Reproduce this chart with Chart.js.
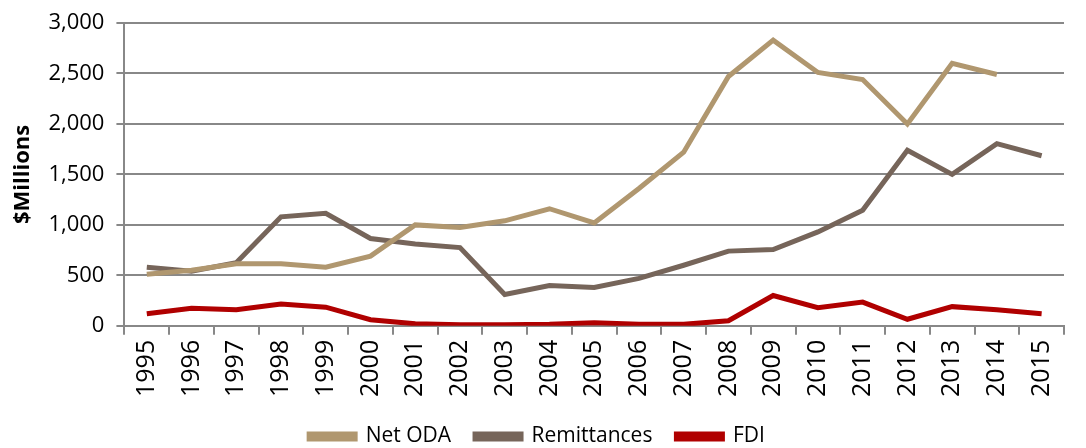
<!DOCTYPE html>
<html>
<head>
<meta charset="utf-8">
<script src="https://cdn.jsdelivr.net/npm/chart.js@4"></script>
<style>
  html, body { margin: 0; padding: 0; background: #fff; }
  #wrap { width: 1086px; height: 448px; }
</style>
</head>
<body>
<div id="wrap"><canvas id="lineChart" width="1086" height="448"></canvas></div>
<script>
var years = ['1995','1996','1997','1998','1999','2000','2001','2002','2003','2004','2005',
             '2006','2007','2008','2009','2010','2011','2012','2013','2014','2015'];
var netOda = [510, 550, 615, 615, 580, 690, 1000, 975, 1040, 1160, 1020,
              1360, 1720, 2470, 2830, 2510, 2440, 2000, 2600, 2490, null];
var remittances = [580, 540, 625, 1080, 1115, 865, 810, 775, 310, 400, 380,
                   470, 600, 740, 755, 930, 1145, 1740, 1500, 1805, 1685];
var fdi = [120, 175, 160, 215, 185, 60, 20, 10, 10, 15, 30,
           15, 15, 50, 300, 180, 235, 65, 190, 160, 120];

var font = "'Open Sans', sans-serif";

var ctx1 = document.getElementById('lineChart').getContext('2d');
var lineChart = new Chart(ctx1, {
    type: 'line',
    data: {
        labels: years,
        datasets: [{
            label: 'Net ODA',
            data: netOda,
            borderColor: '#B0976F',
            backgroundColor: '#B0976F',
            borderWidth: 5,
            pointRadius: 0,
            tension: 0
        }, {
            label: 'Remittances',
            data: remittances,
            borderColor: '#76655A',
            backgroundColor: '#76655A',
            borderWidth: 5,
            pointRadius: 0,
            tension: 0
        }, {
            label: 'FDI',
            data: fdi,
            borderColor: '#B00000',
            backgroundColor: '#B00000',
            borderWidth: 5,
            pointRadius: 0,
            tension: 0
        }]
    },
    options: {
        responsive: false,
        animation: false,
        layout: { padding: { left: 10, right: 22, top: 0, bottom: -9 } },
        plugins: {
            legend: {
                position: 'bottom',
                labels: {
                    color: '#000',
                    boxWidth: 46,
                    boxHeight: 5,
                    padding: 24,
                    font: { family: font, size: 21 }
                }
            },
            tooltip: { enabled: false }
        },
        scales: {
            x: {
                offset: true,
                grid: {
                    display: true,
                    drawOnChartArea: false,
                    drawTicks: true,
                    tickLength: 9,
                    color: '#888',
                    lineWidth: 2,
                    offset: true
                },
                border: { color: '#888', width: 2 },
                ticks: {
                    color: '#000',
                    minRotation: 90,
                    maxRotation: 90,
                    padding: 5,
                    font: { family: font, size: 25 }
                }
            },
            y: {
                min: 0,
                max: 3000,
                grid: {
                    color: '#888',
                    lineWidth: 2,
                    tickLength: 8
                },
                border: { color: '#888', width: 2 },
                ticks: {
                    stepSize: 500,
                    color: '#000',
                    padding: 12,
                    font: { family: font, size: 22, lineHeight: 1 },
                    callback: function (v) { return v.toLocaleString('en-US'); }
                },
                title: {
                    display: true,
                    text: '$Millions',
                    color: '#000',
                    padding: { top: 0, bottom: 0 },
                    font: { family: font, size: 22, weight: 'bold' }
                }
            }
        }
    }
});
</script>
</body>
</html>
